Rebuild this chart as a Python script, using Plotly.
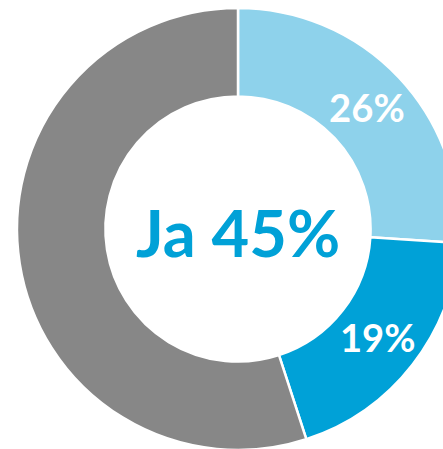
import plotly.graph_objects as go

labels = ["Ja (sehr)", "Ja (eher)", "Nein"]
values = [26, 19, 55]
slice_text = ["26%", "19%", ""]
colors = ["#8ED2EB", "#00A1D7", "#878787"]
center_text = "Ja 45%"

W, H = 480, 460
cx, cy, r = 238, 229, 221

fig = go.Figure()
fig.add_trace(go.Pie(
    labels=labels,
    values=values,
    text=slice_text,
    textinfo="text",
    textposition="inside",
    insidetextorientation="horizontal",
    textfont=dict(family="Lato", size=40, color="white", weight="bold"),
    marker=dict(colors=colors, line=dict(color="white", width=2.5)),
    hole=0.60,
    sort=False,
    direction="clockwise",
    rotation=0,
    hoverinfo="label+percent",
    domain=dict(x=[(cx - r) / W, (cx + r) / W],
                y=[(H - cy - r) / H, (H - cy + r) / H]),
))

fig.add_annotation(
    text=center_text, x=cx / W, y=(H - cy - 3) / H, xref="paper", yref="paper",
    showarrow=False, xanchor="center", yanchor="middle",
    font=dict(family="Lato", size=65, color="#00A1D7", weight="bold"),
)

fig.update_layout(
    width=W, height=H,
    margin=dict(l=0, r=0, t=0, b=0),
    showlegend=False,
    paper_bgcolor="white",
    plot_bgcolor="white",
)

# chart runs off the right edge like the original; drop page margin and scrollbars
fig.write_html("out.html", config={"displayModeBar": False},
               post_script="document.body.style.margin='0';"
               "document.body.style.overflow='hidden';"
               "document.documentElement.style.overflow='hidden';")
